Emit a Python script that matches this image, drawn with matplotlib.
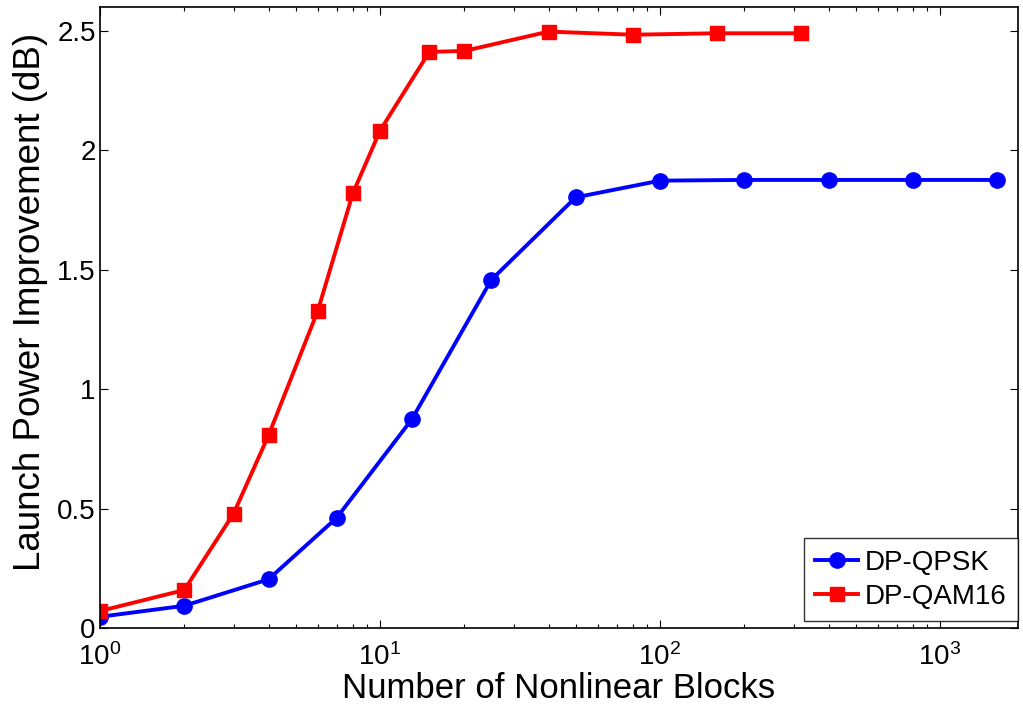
import numpy as np
import matplotlib
matplotlib.use('Agg')
import matplotlib.pyplot as plt
from matplotlib.ticker import LogLocator, FixedLocator

plt.rcParams['font.family'] = ['Liberation Sans', 'DejaVu Sans']
plt.rcParams['mathtext.fontset'] = 'custom'
plt.rcParams['mathtext.rm'] = 'Liberation Sans'
plt.rcParams['mathtext.it'] = 'Liberation Sans'
plt.rcParams['mathtext.bf'] = 'Liberation Sans'

# data
qpsk_blocks = [1, 2, 4, 7, 13, 25, 50, 100, 200, 400, 800, 1600]
qpsk_gain = [0.047, 0.093, 0.204, 0.461, 0.874, 1.458, 1.803, 1.873, 1.876, 1.876, 1.876, 1.876]

qam_blocks = [1, 2, 3, 4, 6, 8, 10, 15, 20, 40, 80, 160, 320]
qam_gain = [0.071, 0.159, 0.479, 0.807, 1.329, 1.82, 2.082, 2.412, 2.416, 2.497, 2.484, 2.490, 2.490]

yticks = [0, 0.5, 1, 1.5, 2, 2.5]
ytick_labels = ['0', '0.5', '1', '1.5', '2', '2.5']

fig = plt.figure(figsize=(10.23, 7.13), dpi=100)
ax = fig.add_axes([100/1023, 85/713, 918/1023, 621/713])

ax.plot(qpsk_blocks, qpsk_gain, color='#0000ff', lw=2.8, marker='o', ms=11, label='DP-QPSK')
ax.plot(qam_blocks, qam_gain, color='#ff0000', lw=2.8, marker='s', ms=9.5, label='DP-QAM16')

ax.set_xscale('log')
ax.set_xlim(1, 1900)
ax.set_ylim(0, 2.6)
ax.yaxis.set_major_locator(FixedLocator(yticks))
ax.set_yticklabels(ytick_labels)
ax.xaxis.set_minor_locator(LogLocator(base=10, subs=np.arange(2, 10)))

ax.tick_params(which='both', direction='in', top=True, right=True, labelsize=20)
ax.tick_params(which='major', length=6, width=0.8)
ax.tick_params(which='minor', length=3, width=0.8)
ax.tick_params(axis='x', pad=11)
ax.tick_params(axis='y', pad=3)
for sp in ax.spines.values():
    sp.set_linewidth(1.2)

ax.set_xlabel('Number of Nonlinear Blocks', fontsize=25, labelpad=1)
ax.set_ylabel('Launch Power Improvement (dB)', fontsize=26.5)
ax.yaxis.set_label_coords(-0.057, 0.525)

leg = ax.legend(loc='lower right', bbox_to_anchor=(1.0, 7/621), fontsize=20,
                frameon=True, fancybox=False, edgecolor='black', borderaxespad=0,
                handlelength=1.55, handletextpad=0.25, borderpad=0.4,
                labelspacing=0.3)
leg.get_frame().set_linewidth(1.0)

fig.savefig('out.png', dpi=100)
